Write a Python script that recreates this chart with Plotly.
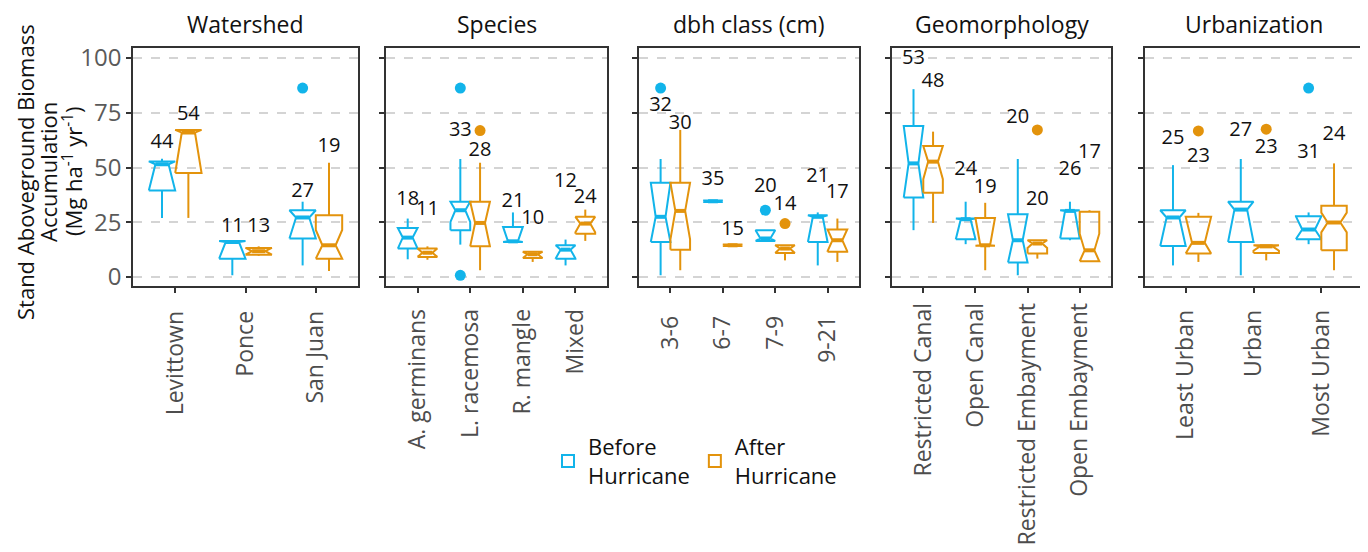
import plotly.graph_objects as go

# ---------------- data ----------------
panel_titles = ["Watershed", "Species", "dbh class (cm)", "Geomorphology", "Urbanization"]
cats_watershed = ["Levittown", "Ponce", "San Juan"]
cats_species = ["A. germinans", "L. racemosa", "R. mangle", "Mixed"]
cats_dbh = ["3-6", "6-7", "7-9", "9-21"]
cats_geomorph = ["Restricted Canal", "Open Canal", "Restricted Embayment", "Open Embayment"]
cats_urban = ["Least Urban", "Urban", "Most Urban"]
panel_cats = [cats_watershed, cats_species, cats_dbh, cats_geomorph, cats_urban]

# Before hurricane (18 groups, panel order)
before_lo = [27.0, 0.8, 5.3, 8.1, 14.8, 16.3, 5.3, 0.8, 34.3, 16.5, 5.3, 21.4, 15.0, 0.8, 16.8, 5.3, 0.8, 15.0]
before_q1 = [39.5, 8.4, 17.6, 13.0, 21.4, 16.0, 8.4, 16.0, 34.3, 16.5, 16.0, 36.3, 17.3, 6.6, 17.6, 14.2, 16.0, 17.3]
before_med = [51.5, 16.0, 27.2, 18.0, 30.5, 16.3, 12.5, 27.5, 34.6, 17.6, 27.5, 51.9, 26.4, 16.8, 30.2, 27.2, 30.8, 21.7]
before_q3 = [52.8, 16.5, 30.5, 22.4, 34.4, 22.9, 14.5, 43.1, 34.9, 21.4, 28.2, 69.0, 26.7, 28.7, 30.5, 30.5, 34.4, 27.8]
before_hi = [54.0, 16.5, 34.4, 26.7, 53.9, 29.5, 17.1, 53.9, 34.9, 21.4, 29.5, 85.8, 34.4, 53.9, 34.4, 51.1, 53.9, 29.5]
before_notch = [13.0, 8.0, 10.0, 5.0, 5.3, 7.0, 4.0, 16.0, 1.0, 4.0, 12.0, 18.0, 9.0, 12.0, 13.0, 13.0, 15.0, 6.0]
before_n = [44, 11, 27, 18, 33, 21, 12, 32, 35, 20, 21, 53, 24, 20, 26, 25, 27, 31]
before_label_y = [61.0, 22.9, 38.9, 35.1, 66.9, 34.4, 43.5, 78.2, 44.3, 40.9, 45.5, 99.5, 48.9, 72.5, 48.9, 62.9, 66.9, 56.5]

# After hurricane
after_lo = [27.0, 9.7, 2.7, 7.9, 3.1, 6.9, 16.5, 3.1, 14.2, 7.6, 6.9, 24.7, 3.1, 8.4, 7.2, 6.9, 7.6, 3.1]
after_q1 = [47.5, 10.2, 8.4, 9.2, 14.0, 8.7, 19.8, 12.5, 14.2, 11.0, 11.5, 38.5, 14.3, 10.7, 7.2, 10.7, 11.0, 12.2]
after_med = [66.0, 11.8, 14.5, 11.1, 24.7, 10.4, 24.4, 30.2, 14.5, 13.0, 16.8, 52.7, 14.5, 15.3, 12.2, 15.6, 14.0, 24.9]
after_q3 = [67.2, 13.3, 28.2, 13.0, 34.4, 11.5, 27.5, 43.1, 14.8, 14.5, 21.7, 59.8, 27.0, 16.8, 29.8, 27.5, 14.5, 32.5]
after_hi = [67.5, 14.0, 52.2, 14.0, 52.2, 11.5, 30.8, 67.2, 14.8, 14.5, 26.7, 66.4, 33.9, 16.8, 30.5, 29.3, 14.5, 51.9]
after_notch = [20.0, 2.0, 7.0, 2.0, 11.0, 2.0, 4.0, 13.0, 1.0, 2.0, 5.0, 8.0, 13.0, 2.0, 7.6, 12.0, 2.0, 4.5]
after_n = [54, 13, 19, 11, 28, 10, 24, 30, 15, 14, 17, 48, 19, 20, 17, 23, 23, 24]
after_label_y = [74.0, 22.9, 59.5, 30.5, 57.7, 26.7, 36.3, 69.9, 21.7, 32.8, 38.2, 88.9, 40.8, 35.4, 56.8, 55.0, 58.8, 64.9]

# Outliers: global group index and value
before_out_group = [2, 4, 4, 7, 9, 17]
before_out_value = [86.3, 86.3, 0.8, 86.3, 30.5, 86.3]
after_out_group = [4, 9, 13, 15, 16]
after_out_value = [66.9, 24.4, 67.2, 66.7, 67.5]

y_ticks = [0, 25, 50, 75, 100]

# ---------------- style / layout ----------------
BLUE = "#12B4EA"
ORANGE = "#E3930C"
FONT = "Open Sans"
W, H = 1368, 552
OFF = 8  # page body margin in the browser
panel_px = [(133, 358), (386, 607), (639, 859), (892, 1111), (1145, 1362)]
tick_standoff = [9, 7, 14, 1, 8]
y_top_px, y_bot_px = 48, 286
DODGE = 0.1875
HALF = 0.1875
INDENT = HALF * 0.5


def px_x(v):
    return (v - OFF) / W


def px_y(v):
    return 1 - (v - OFF) / H


fig = go.Figure()

series = [
    ("before", BLUE, -1, before_lo, before_q1, before_med, before_q3, before_hi, before_notch,
     before_n, before_label_y, before_out_group, before_out_value),
    ("after", ORANGE, 1, after_lo, after_q1, after_med, after_q3, after_hi, after_notch,
     after_n, after_label_y, after_out_group, after_out_value),
]

starts = []
acc = 0
for cats in panel_cats:
    starts.append(acc)
    acc += len(cats)

for p, cats in enumerate(panel_cats):
    xa = "x" if p == 0 else f"x{p+1}"
    ya = "y" if p == 0 else f"y{p+1}"
    g0 = starts[p]
    for (nm, color, sign, lo, q1, md, q3, hi, ns, nn, ly, og, ov) in series:
        bx, by, mx, my, wx, wy, tx, ty, tt = [], [], [], [], [], [], [], [], []
        for j in range(len(cats)):
            k = g0 + j
            c = j + sign * DODGE
            ln = max(q1[k], md[k] - ns[k])
            un = min(q3[k], md[k] + ns[k])
            x0, x1 = c - HALF, c + HALF
            bx += [x0, x0, x0 + INDENT, x0, x0, x1, x1, x1 - INDENT, x1, x1, x0, None]
            by += [q1[k], ln, md[k], un, q3[k], q3[k], un, md[k], ln, q1[k], q1[k], None]
            mx += [x0 + INDENT, x1 - INDENT, None]
            my += [md[k], md[k], None]
            wx += [c, c, None, c, c, None]
            wy += [q3[k], hi[k], None, q1[k], lo[k], None]
            tx.append(c)
            ty.append(ly[k])
            tt.append(str(nn[k]))
        fig.add_trace(go.Scatter(x=wx, y=wy, mode="lines", line=dict(color=color, width=2),
                                 xaxis=xa, yaxis=ya, showlegend=False, hoverinfo="skip"))
        fig.add_trace(go.Scatter(x=bx, y=by, mode="lines", line=dict(color=color, width=2),
                                 xaxis=xa, yaxis=ya, showlegend=False, hoverinfo="skip"))
        fig.add_trace(go.Scatter(x=mx, y=my, mode="lines", line=dict(color=color, width=4),
                                 xaxis=xa, yaxis=ya, showlegend=False, hoverinfo="skip"))
        oxs, oys = [], []
        for gidx, val in zip(og, ov):
            if g0 <= gidx < g0 + len(cats):
                oxs.append(gidx - g0 + sign * DODGE)
                oys.append(val)
        if oxs:
            fig.add_trace(go.Scatter(x=oxs, y=oys, mode="markers",
                                     marker=dict(color=color, size=11),
                                     xaxis=xa, yaxis=ya, showlegend=False, hoverinfo="skip"))
        fig.add_trace(go.Scatter(x=tx, y=ty, mode="text", text=tt,
                                 textfont=dict(family=FONT, size=20, color="#111111"),
                                 cliponaxis=False, xaxis=xa, yaxis=ya,
                                 showlegend=False, hoverinfo="skip"))

# legend-only box traces (placed outside the visible y range)
for name, color in [("Before<br>Hurricane", BLUE), ("After<br>Hurricane", ORANGE)]:
    fig.add_trace(go.Box(x=[0], y=[-60], name=name, line=dict(color=color, width=2),
                         fillcolor="rgba(255,255,255,0)", xaxis="x", yaxis="y",
                         showlegend=True, boxpoints=False))

ydom = [px_y(y_bot_px), px_y(y_top_px)]
layout = dict(
    width=W, height=H,
    margin=dict(l=0, r=0, t=0, b=0, autoexpand=False),
    paper_bgcolor="white", plot_bgcolor="white",
    font=dict(family=FONT, color="#111111"),
    showlegend=True,
    legend=dict(orientation="h", x=px_x(548), y=px_y(426), xanchor="left", yanchor="top",
                font=dict(family=FONT, size=22, color="#111111"),
                bgcolor="rgba(0,0,0,0)", itemwidth=30, tracegroupgap=0),
)
annotations = []
for p, cats in enumerate(panel_cats):
    sfx = "" if p == 0 else str(p + 1)
    x0px, x1px = panel_px[p]
    layout["xaxis" + sfx] = dict(
        domain=[px_x(x0px), px_x(x1px)], range=[-0.6, len(cats) - 0.4],
        tickmode="array", tickvals=list(range(len(cats))), ticktext=cats,
        tickangle=-90, ticks="outside", ticklen=5, tickwidth=1.5, tickcolor="#333333",
        ticklabelstandoff=tick_standoff[p],
        tickfont=dict(family=FONT, size=23, color="#4d4d4d"), automargin=False,
        showline=True, mirror=True, linecolor="#333333", linewidth=1.5,
        showgrid=False, zeroline=False, anchor="y" + sfx, fixedrange=True,
    )
    layout["yaxis" + sfx] = dict(
        domain=ydom, range=[-4.1, 104.6], tickmode="array", tickvals=y_ticks,
        showticklabels=(p == 0), ticks="outside", ticklen=5, tickwidth=1.5,
        tickcolor="#333333", tickfont=dict(family=FONT, size=24, color="#5a5a5a"),
        automargin=False,
        showgrid=True, gridcolor="#d4d4d4", gridwidth=1.5, griddash="dash",
        showline=True, mirror=True, linecolor="#333333", linewidth=1.5,
        zeroline=False, anchor="x" + sfx, fixedrange=True,
    )
    annotations.append(dict(text=panel_titles[p], xref="paper", yref="paper",
                            x=px_x((x0px + x1px) / 2), y=px_y(24), xanchor="center",
                            yanchor="middle", showarrow=False,
                            font=dict(family=FONT, size=23, color="#111111")))

ytitle_lines = ["Stand Aboveground Biomass", "Accumulation", "(Mg ha<sup>-1</sup> yr<sup>-1</sup>)"]
for xpx, line in zip([25, 48, 72], ytitle_lines):
    annotations.append(dict(text=line, xref="paper", yref="paper", x=px_x(xpx), y=px_y(172),
                            xanchor="center", yanchor="middle", textangle=-90, showarrow=False,
                            font=dict(family=FONT, size=22, color="#111111")))
layout["annotations"] = annotations
fig.update_layout(**layout)
fig.write_html("out.html")
